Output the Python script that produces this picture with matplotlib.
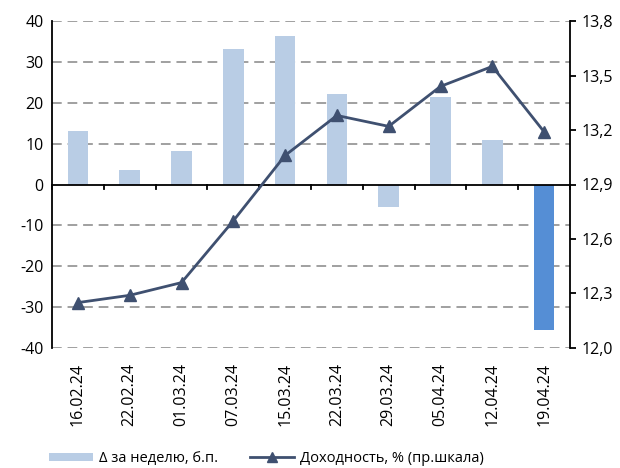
import matplotlib
matplotlib.use("Agg")
import matplotlib.pyplot as plt
from matplotlib.lines import Line2D
from matplotlib.patches import Patch
from matplotlib.transforms import blended_transform_factory
import numpy as np

plt.rcParams['font.family'] = ['Open Sans', 'DejaVu Sans']

dates = ["16.02.24", "22.02.24", "01.03.24", "07.03.24", "15.03.24",
         "22.03.24", "29.03.24", "05.04.24", "12.04.24", "19.04.24"]
delta_bp = [13.2, 3.6, 8.3, 33.2, 36.4, 22.2, -5.6, 21.5, 11.0, -35.5]
yield_pct = [12.25, 12.29, 12.36, 12.70, 13.06, 13.28, 13.22, 13.44, 13.55, 13.19]
left_ticks = [-40, -30, -20, -10, 0, 10, 20, 30, 40]
right_ticks = [12.0, 12.3, 12.6, 12.9, 13.2, 13.5, 13.8]

bar_color = "#B9CDE5"
last_color = "#558ED5"
line_color = "#3F5070"

fig = plt.figure(figsize=(6.2, 4.68), dpi=100)
ax = fig.add_axes([52/620, 1-348/468, (570-52)/620, (348-21)/468])
x = np.arange(len(dates))
colors = [bar_color]*(len(dates)-1) + [last_color]
ax.bar(x, delta_bp, width=0.4, color=colors, zorder=2)
ax.set_xlim(-0.5, len(dates)-0.5)
ax.set_ylim(-40, 40)
ax.set_yticks(left_ticks)
ax.set_yticklabels([str(v) for v in left_ticks], fontsize=11.5)
for v in left_ticks:
    if v != 0:
        ax.axhline(v, color="#A0A0A0", lw=1.4, ls=(0, (5, 3)), zorder=1)
ax.axhline(0, color="black", lw=1.3, zorder=3)
ax.spines['top'].set_visible(False)
ax.spines['bottom'].set_visible(False)
ax.spines['right'].set_visible(False)
ax.spines['left'].set_linewidth(1.3)
ax.tick_params(axis='y', direction='out', length=0, pad=6)
ax.set_xticks([])
# category boundary ticks on zero line
for b in np.arange(-0.5, len(dates), 1.0):
    ax.plot([b, b], [0, -1.2], color="black", lw=1.3, zorder=3, clip_on=False)
trans = blended_transform_factory(ax.transData, ax.transAxes)
for i, d in enumerate(dates):
    ax.text(i, -0.045, d, rotation=90, ha='center', va='top', fontsize=11.5, transform=trans)

ax2 = ax.twinx()
ax2.set_position(ax.get_position())
ax2.plot(x, yield_pct, color=line_color, lw=2, marker='^', markersize=9, zorder=4)
ax2.set_ylim(12.0, 13.8)
ax2.set_yticks(right_ticks)
ax2.set_yticklabels([f"{v:.1f}".replace('.', ',') for v in right_ticks], fontsize=11.5)
for s in ['top', 'bottom', 'left']:
    ax2.spines[s].set_visible(False)
ax2.spines['right'].set_linewidth(1.3)
ax2.tick_params(axis='y', direction='out', length=4, width=1.3, pad=4)

handles = [Patch(facecolor=bar_color, edgecolor='none'),
           Line2D([0], [0], color=line_color, lw=2, marker='^', markersize=7)]
fig.legend(handles, ["Δ за неделю, б.п.", "Доходность, % (пр.шкала)"],
           loc='lower left', bbox_to_anchor=(36/620, -0.024), ncol=2, frameon=False,
           fontsize=10.5, handlelength=3.0, handleheight=0.5, handletextpad=0.4,
           columnspacing=2.2)

fig.savefig("out.png", dpi=100)
